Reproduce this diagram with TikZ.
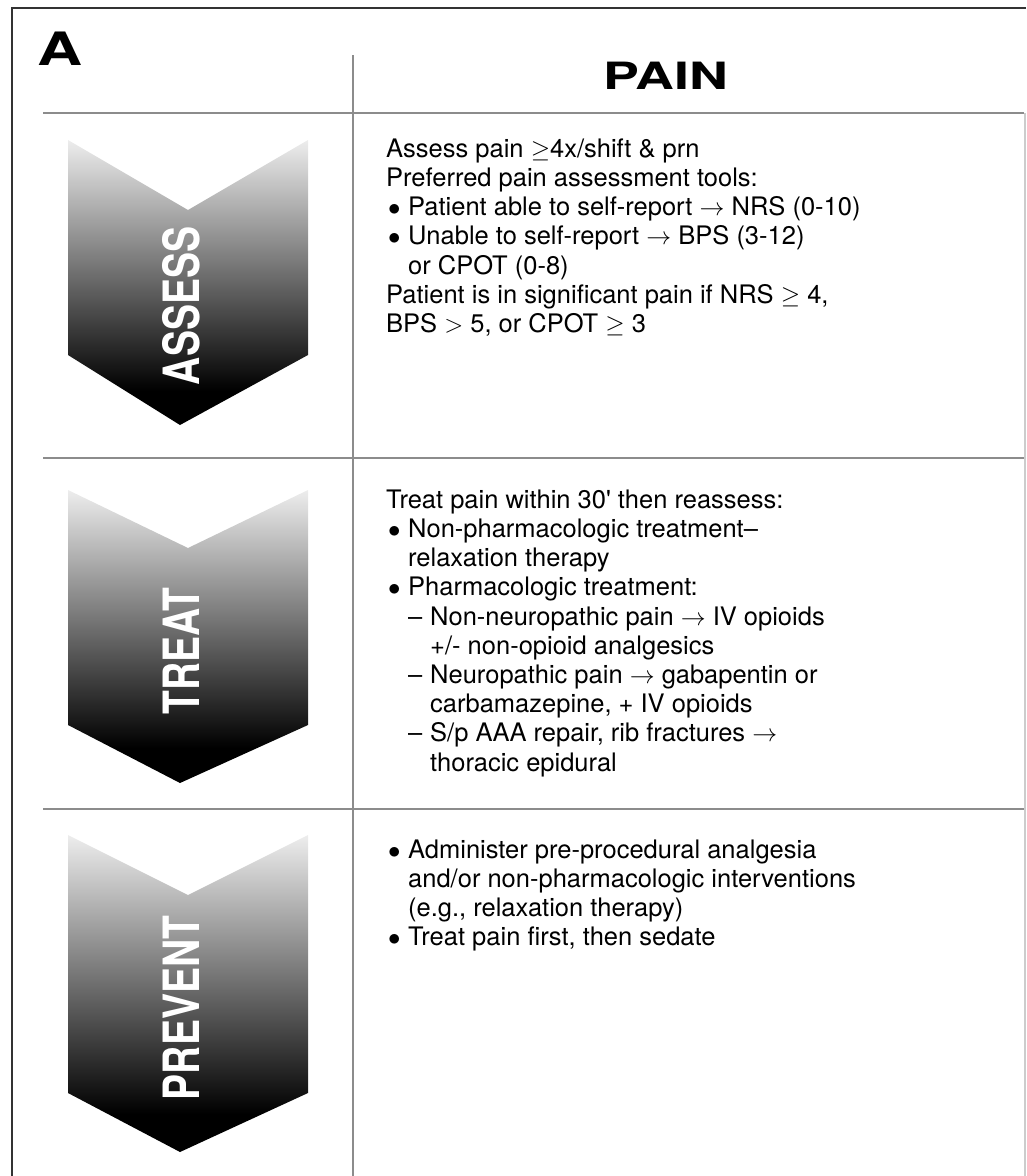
\documentclass[tikz,border=0pt]{standalone}
\usepackage{fontspec}
\setmainfont{TeX Gyre Heros}
\usepackage{graphicx}

\pgfdeclareverticalshading{chevshade}{100bp}{color(0bp)=(black); color(31bp)=(black); color(75bp)=(black!7); color(100bp)=(black!7)}

\newcommand{\bul}{\hspace*{2pt}\makebox[20pt][l]{$\bullet$}}
\newcommand{\ind}{\hspace*{22pt}}
\newcommand{\dsh}{\hspace*{22pt}\makebox[22pt][l]{–}}
\newcommand{\dind}{\hspace*{44pt}}
\newcommand{\arr}{$\rightarrow$}

\tikzset{
  grid_line/.style={draw=black!45, line width=2pt},
  frame_line/.style={draw=black!80, line width=2.5pt},
  chev_label/.style={rotate=90, text=white, inner sep=0, font=\fontsize{50}{50}\selectfont\bfseries},
  body_text/.style={anchor=north west, align=left, inner sep=0, font=\fontsize{25.5}{29.2}\selectfont},
}

\begin{document}
\begin{tikzpicture}[x=1pt, y=-1pt]
    \useasboundingbox (0,0) rectangle (1026,1176);
    % frame and table rules
    \draw[frame_line] (12,1176) -- (12,8) -- (1026,8);
    \draw[grid_line, draw=black!20] (1025,113) -- (1025,1176);
    \draw[grid_line] (353,55) -- (353,1176);
    \foreach \y in {113,458,809}
        \draw[grid_line] (43,\y) -- (1024,\y);
    % chevrons
    \foreach \t/\n/\s/\p in {140/210/355/425, 490/548/725/783, 835/895/1093/1152}
        \shade[shading=chevshade] (68,\t) -- (188,\n) -- (308,\t) -- (308,\s) -- (180,\p) -- (68,\s) -- cycle;
    \node[chev_label, name=assess] at (181,306) {\scalebox{0.78}[1]{ASSESS}};
    \node[chev_label, name=treat] at (181,651) {\scalebox{0.78}[1]{TREAT}};
    \node[chev_label, name=prevent] at (181,1008) {\scalebox{0.78}[1]{PREVENT}};
    % headings
    \node[inner sep=0, font=\fontsize{46}{46}\selectfont\bfseries, name=panel] at (60.5,48.5) {\scalebox{1.36}[1]{A}};
    \node[inner sep=0, font=\fontsize{37.6}{37.6}\selectfont\bfseries, name=pain] at (666,75.5) {\scalebox{1.43}[1]{PAIN}};
    % cell texts (first baselines at 157, 508, 858)
    \node[body_text, name=assess_txt] at (386,136.6) {\strut Assess pain $\geq$4x/shift \& prn\\
        Preferred pain assessment tools:\\
        \bul Patient able to self-report \arr{} NRS (0-10)\\
        \bul Unable to self-report \arr{} BPS (3-12)\\
        \ind or CPOT (0-8)\\
        Patient is in significant pain if NRS $\geq$ 4,\\
        BPS $>$ 5, or CPOT $\geq$ 3};
    \node[body_text, name=treat_txt] at (386,487.6) {\strut Treat pain within 30\textquotesingle{} then reassess:\\
        \bul Non-pharmacologic treatment–\\
        \ind relaxation therapy\\
        \bul Pharmacologic treatment:\\
        \dsh Non-neuropathic pain \arr{} IV opioids\\
        \dind +/- non-opioid analgesics\\
        \dsh Neuropathic pain \arr{} gabapentin or\\
        \dind carbamazepine, + IV opioids\\
        \dsh S/p AAA repair, rib fractures \arr\\
        \dind thoracic epidural};
    \node[body_text, name=prevent_txt] at (386,837.6) {\strut\bul Administer pre-procedural analgesia\\
        \ind and/or non-pharmacologic interventions\\
        \ind (e.g., relaxation therapy)\\
        \bul Treat pain first, then sedate};
\end{tikzpicture}
\end{document}
